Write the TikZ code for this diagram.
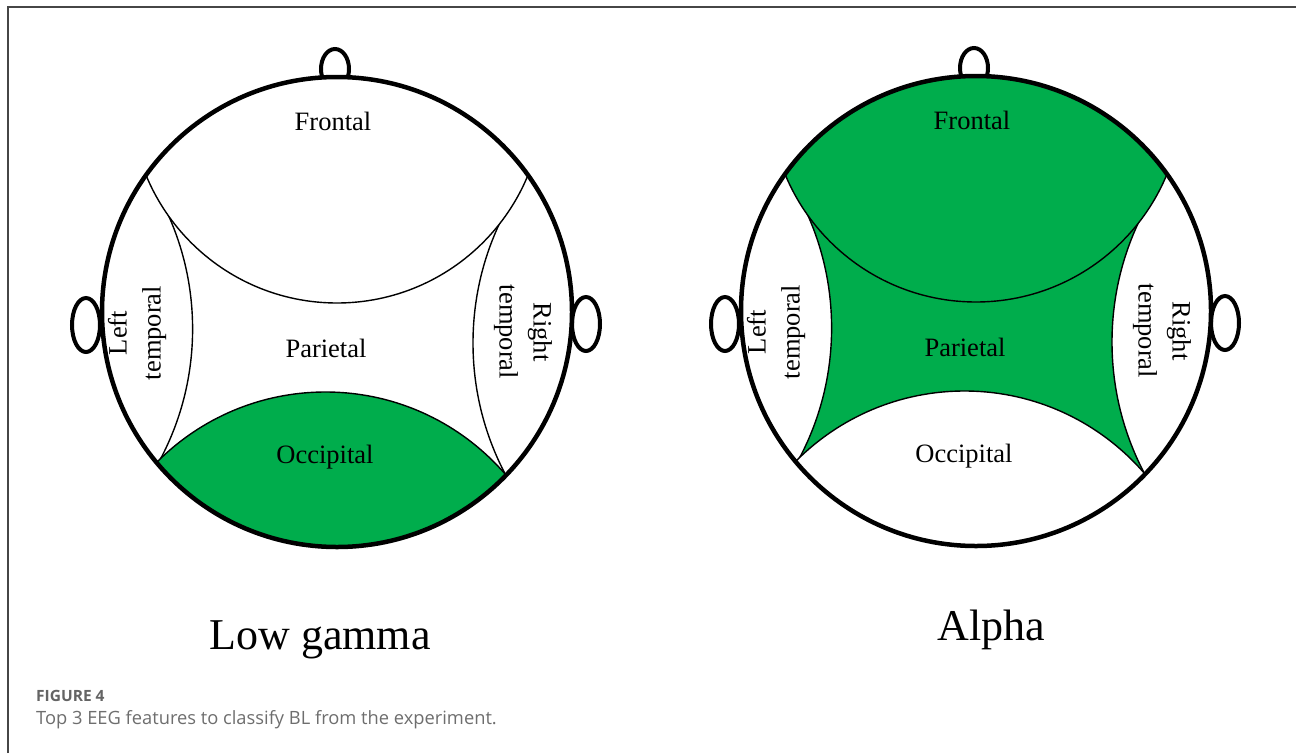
\documentclass[tikz,border=0pt]{standalone}
\usepackage{fontspec}
\setmainfont{Liberation Serif}
\newfontfamily\capfont{Open Sans}
\definecolor{eeggreen}{RGB}{0,173,76}
\definecolor{framegray}{RGB}{70,70,70}
\definecolor{capgray}{RGB}{100,100,100}
\definecolor{captextgray}{RGB}{110,110,110}
\tikzset{
  headline/.style={line width=4.5pt},
  earline/.style={line width=4pt},
  thinline/.style={line width=1.4pt},
  region/.style={font=\fontsize{26.5}{34}\selectfont, inner sep=0pt, align=center},
  bandlabel/.style={font=\fontsize{44}{50}\selectfont, inner sep=0pt},
}
% geometry (relative to head centre, y downward)
\def\HR{235pt}
\def\Fc{(0,-215.5)}\def\FR{206.5pt}
\def\Oc{(-11.5,317.7)}\def\OR{237.7pt}
\def\TLc{(-423,17)}\def\TLR{278.6pt}
\def\TRc{(418,31)}\def\TRR{282pt}
\newcommand{\OutsideFO}{%
  \clip (-400,-400) rectangle (400,400) \Fc circle[radius=\FR];
  \clip (-400,-400) rectangle (400,400) \Oc circle[radius=\OR];}
\newcommand{\EEGHead}[4]{% #1,#2 centre; #3 prefix; #4 fill code
  \begin{scope}[shift={(#1,#2)}]
    \draw[earline] (-2,-243) ellipse[x radius=14pt, y radius=20pt];
    \draw[earline] (-251,13) ellipse[x radius=14pt, y radius=27pt];
    \draw[earline] (249,12) ellipse[x radius=14pt, y radius=27pt];
    \fill[white] (0,0) circle[radius=\HR];
    \begin{scope}
      \clip (0,0) circle[radius=\HR];
      #4
    \end{scope}
    \begin{scope}
      \clip (0,0) circle[radius=\HR];
      \draw[thinline] \Fc circle[radius=\FR];
      \draw[thinline] \Oc circle[radius=\OR];
      \begin{scope}[even odd rule]
        \OutsideFO
        \draw[thinline] \TLc circle[radius=\TLR];
        \draw[thinline] \TRc circle[radius=\TRR];
      \end{scope}
    \end{scope}
    \draw[headline] (0,0) circle[radius=\HR];
    \node[region] (#3front) at (-4,-191) {Frontal};
    \node[region] (#3par) at (-11,36) {Parietal};
    \node[region] (#3occ) at (-12,145) {Occipital};
    \node[region, rotate=90] (#3lt) at (-200,21) {Left\\temporal};
    \node[region, rotate=-90] (#3rt) at (186,20) {Right\\temporal};
  \end{scope}}
\begin{document}
\begin{tikzpicture}[x=1pt,y=-1pt]
  \useasboundingbox (0,0) rectangle (1296,753);
  \fill[white] (0,0) rectangle (1296,753);
  \coordinate (fa) at (8,7);
  \coordinate (fb) at (1296,7);
  \coordinate (fc) at (8,753);
  \draw[framegray, line width=1.2pt] (fc) -- (fa) -- (fb);
  \EEGHead{337}{312}{lg}{\fill[eeggreen] \Oc circle[radius=\OR];}
  \EEGHead{976}{311}{al}{%
    \fill[eeggreen] (0,0) circle[radius=\HR];
    \fill[white] \Oc circle[radius=\OR];
    \begin{scope}[even odd rule]
      \OutsideFO
      \fill[white] \TLc circle[radius=\TLR];
      \fill[white] \TRc circle[radius=\TRR];
    \end{scope}}
  \node[bandlabel] (lowgamma) at (320,640) {Low gamma};
  \node[bandlabel] (alpha) at (991,630) {Alpha};
  \node[anchor=base west, inner sep=0pt, text=capgray, font=\capfont\fontsize{15.5}{18}\selectfont\bfseries] (fig) at (36,701) {FIGURE 4};
  \node[anchor=base west, inner sep=0pt, text=captextgray, font=\capfont\fontsize{18.3}{22}\selectfont] (cap) at (36,724) {Top 3 EEG features to classify BL from the experiment.};
\end{tikzpicture}
\end{document}
